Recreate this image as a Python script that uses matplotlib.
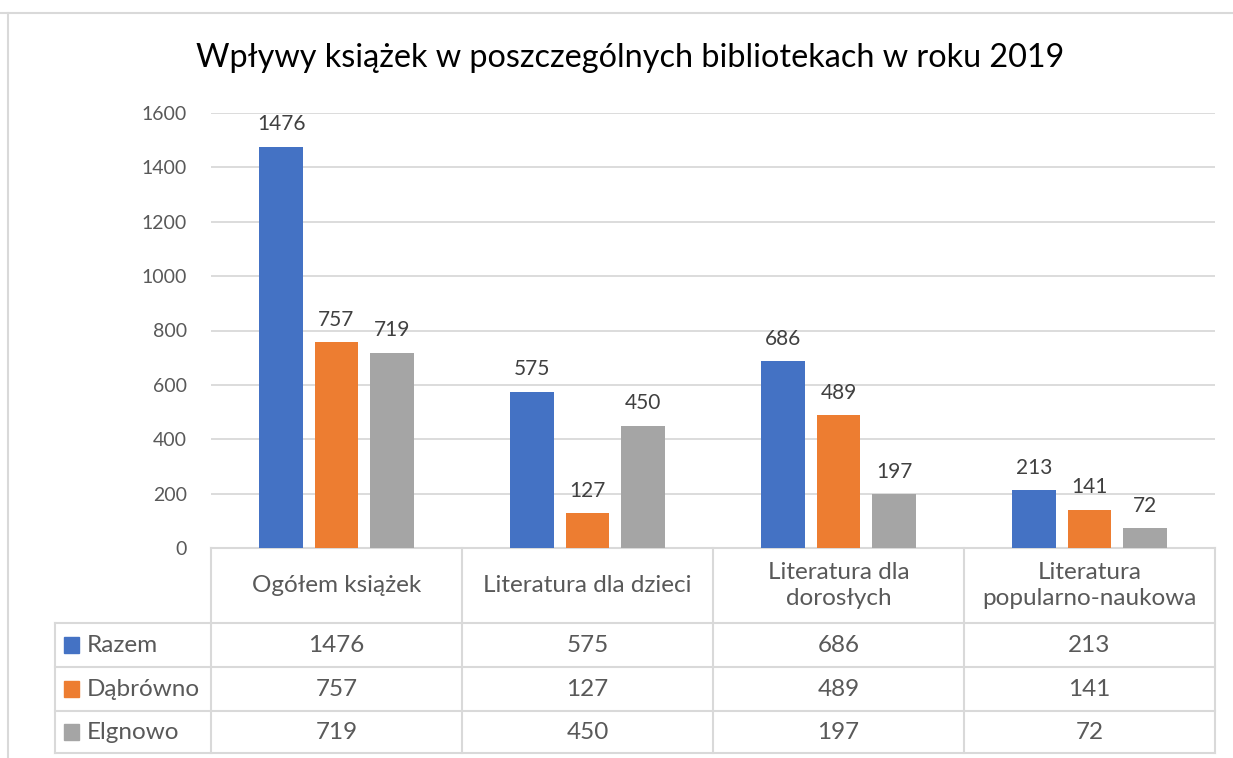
#!/usr/bin/env python3
"""Wpływy książek w bibliotekach 2019 - clustered bars with data table."""

import matplotlib

matplotlib.use('Agg')
import matplotlib.pyplot as plt
import numpy as np
from matplotlib.lines import Line2D
from matplotlib.patches import Rectangle

categories = ['Ogółem książek', 'Literatura dla dzieci',
              'Literatura dla\ndorosłych', 'Literatura\npopularno-naukowa']
series = ['Razem', 'Dąbrówno', 'Elgnowo']
razem = [1476, 575, 686, 213]
dabrowno = [757, 127, 489, 141]
elgnowo = [719, 450, 197, 72]
colors = ['#4472C4', '#ED7D31', '#A5A5A5']
yticks = [0, 200, 400, 600, 800, 1000, 1200, 1400, 1600]
title = 'Wpływy książek w poszczególnych bibliotekach w roku 2019'

TXT = '#595959'
GRID = '#D9D9D9'
W, H = 1233, 758

plt.rcParams['font.family'] = ['Lato', 'DejaVu Sans']

fig = plt.figure(figsize=(W / 100, H / 100), dpi=100)
ax = fig.add_axes([211 / W, 1 - 548 / H, (1215 - 211) / W, (548 - 113) / H])

values = [razem, dabrowno, elgnowo]
x = np.arange(len(categories))
width = 0.175
offsets = [-0.221, 0.0, 0.221]
for vals, col, off, name in zip(values, colors, offsets, series):
    bars = ax.bar(x + off, vals, width, color=col, label=name, zorder=3)
    for b, v in zip(bars, vals):
        ax.annotate(str(v), (b.get_x() + b.get_width() / 2, v),
                    xytext=(0, 9), textcoords='offset points',
                    ha='center', va='bottom', fontsize=15, color='#404040')

ax.set_xlim(-0.5, len(categories) - 0.5)
ax.set_ylim(0, 1600)
ax.set_yticks(yticks)
ax.set_yticklabels([str(t) for t in yticks], fontsize=14, color=TXT)
ax.set_xticks([])
ax.tick_params(axis='y', length=0, pad=17.5)
ax.grid(axis='y', color=GRID, linewidth=1.3, zorder=0)
for s in ['top', 'right', 'left', 'bottom']:
    ax.spines[s].set_visible(False)

# data table under the axis
tr = ax.get_xaxis_transform()
row_y = [0.0, -0.1724, -0.2736, -0.3747, -0.4713]
left_x = -0.5 - 156 / 251
lk = dict(transform=tr, color=GRID, linewidth=1.5, clip_on=False)
ax.add_line(Line2D([-0.5, len(categories) - 0.5], [0, 0], **lk))
for yy in row_y[1:]:
    ax.add_line(Line2D([left_x, len(categories) - 0.5], [yy, yy], **lk))
for i in range(len(categories) + 1):
    ax.add_line(Line2D([i - 0.5, i - 0.5], [0, row_y[-1]], **lk))
ax.add_line(Line2D([left_x, left_x], [row_y[1], row_y[-1]], **lk))

for i, cat in enumerate(categories):
    ax.text(i, (row_y[0] + row_y[1]) / 2, cat, transform=tr, ha='center',
            va='center', fontsize=17.5, color=TXT, linespacing=1.35)

for r, (name, vals, col) in enumerate(zip(series, values, colors)):
    yc = (row_y[r + 1] + row_y[r + 2]) / 2
    ax.add_patch(Rectangle((left_x + 0.034, yc - 0.018), 0.063, 0.036,
                           transform=tr, color=col, clip_on=False))
    ax.text(left_x + 0.125, yc, name, transform=tr, ha='left', va='center',
            fontsize=17.5, color=TXT)
    for i, v in enumerate(vals):
        ax.text(i, yc, str(v), transform=tr, ha='center', va='center',
                fontsize=17.5, color=TXT)

fig.text(630 / W, 1 - 58 / H, title, ha='center', va='center',
         fontsize=23.3, color='black')

# chart border (partially cropped)
fig.add_artist(Line2D([0, 1], [1 - 13 / H, 1 - 13 / H],
                      transform=fig.transFigure, color=GRID, linewidth=1.5))
fig.add_artist(Line2D([8 / W, 8 / W], [0, 1 - 13 / H],
                      transform=fig.transFigure, color=GRID, linewidth=1.5))

fig.savefig('out.png', dpi=100, facecolor='white')
